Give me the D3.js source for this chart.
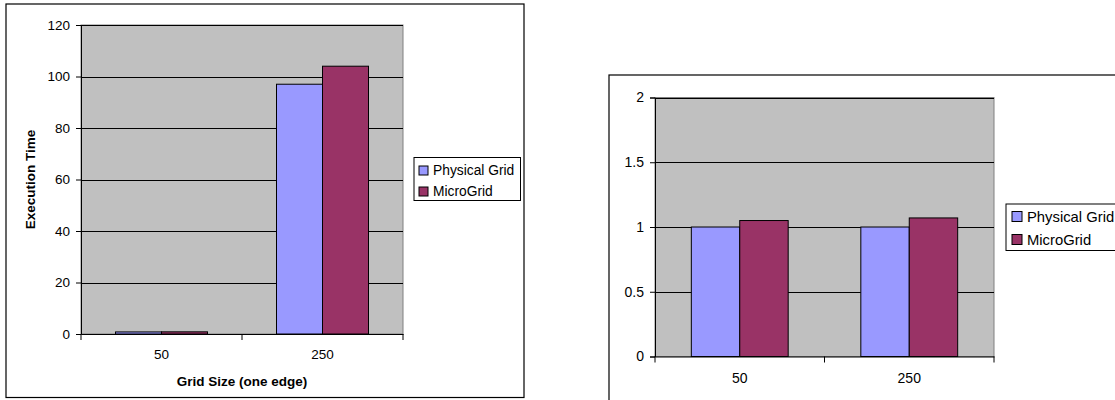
<!DOCTYPE html>
<html>
<head>
<meta charset="utf-8">
<script src="https://cdn.jsdelivr.net/npm/d3@7"></script>
<style>
  html, body { margin: 0; padding: 0; background: #ffffff; }
  svg { display: block; font-family: Arial, "Liberation Sans", sans-serif; }
</style>
</head>
<body>
<svg id="chart" width="1115" height="400"></svg>
<script>
// ---- data ----
const categories = ["50", "250"];
const seriesNames = ["Physical Grid", "MicroGrid"];
const seriesColors = ["#9999FF", "#993366"];

// left chart: absolute execution time
const leftPhysical = [0.8, 97];
const leftMicro = [0.84, 104];
const leftTicks = [0, 20, 40, 60, 80, 100, 120];
const leftYTitle = "Execution Time";
const leftXTitle = "Grid Size (one edge)";

// right chart: normalized
const rightPhysical = [1.0, 1.0];
const rightMicro = [1.05, 1.07];
const rightTicks = [0, 0.5, 1, 1.5, 2];

const svg = d3.select("#chart");

function drawChart(cfg) {
  const g = svg.append("g");
  // outer frame
  g.append("rect")
    .attr("x", cfg.frame[0]).attr("y", cfg.frame[1])
    .attr("width", cfg.frame[2]).attr("height", cfg.frame[3])
    .attr("fill", "#ffffff").attr("stroke", "#000").attr("stroke-width", 1.2);

  const [px0, px1, py0, py1] = cfg.plot; // left, right, top, bottom
  const x = d3.scaleBand().domain(cfg.categories).range([px0, px1]).paddingInner(0).paddingOuter(0);
  const xs = d3.scaleBand().domain(cfg.series).range([0, x.bandwidth()]).paddingInner(0).paddingOuter(0.75);
  const y = d3.scaleLinear().domain([cfg.ticks[0], cfg.ticks[cfg.ticks.length - 1]]).range([py1, py0]);

  // plot background
  g.append("rect")
    .attr("x", px0).attr("y", py0).attr("width", px1 - px0).attr("height", py1 - py0)
    .attr("fill", "#C0C0C0").attr("stroke", "#808080").attr("stroke-width", 1);

  // gridlines
  g.append("g").selectAll("line").data(cfg.ticks.filter(t => t !== 0))
    .join("line")
    .attr("x1", px0).attr("x2", px1)
    .attr("y1", d => Math.round(y(d)) + 0.5).attr("y2", d => Math.round(y(d)) + 0.5)
    .attr("stroke", "#000").attr("stroke-width", 1);

  // bars
  const rows = cfg.categories.map((c, i) => ({ cat: c, vals: cfg.values.map(v => v[i]) }));
  const grp = g.append("g").selectAll("g").data(rows).join("g")
    .attr("transform", d => `translate(${x(d.cat)},0)`);
  grp.selectAll("rect").data(d => d.vals.map((v, j) => ({ v, s: cfg.series[j], j })))
    .join("rect")
    .attr("x", d => xs(d.s))
    .attr("width", xs.bandwidth())
    .attr("y", d => y(d.v))
    .attr("height", d => y(0) - y(d.v))
    .attr("fill", d => cfg.colors[d.j])
    .attr("stroke", "#000").attr("stroke-width", 1);

  // y axis
  const ya = g.append("g").attr("transform", `translate(${px0},0)`)
    .call(d3.axisLeft(y).tickValues(cfg.ticks).tickSize(5).tickPadding(6).tickFormat(d3.format("")));
  ya.select(".domain").attr("stroke", "#000");
  ya.selectAll(".tick line").attr("stroke", "#000");
  ya.selectAll("text").attr("font-size", cfg.tickFont + "px").attr("fill", "#000")
    .attr("font-family", "Arial, 'Liberation Sans', sans-serif");

  // x axis: line, boundary ticks, centered labels
  const xa = g.append("g").attr("transform", `translate(0,${py1})`);
  xa.call(d3.axisBottom(x).tickSize(0).tickPadding(cfg.xPad));
  xa.select(".domain").attr("stroke", "#000");
  xa.selectAll("text").attr("font-size", cfg.tickFont + "px").attr("fill", "#000")
    .attr("font-family", "Arial, 'Liberation Sans', sans-serif");
  const bounds = cfg.categories.map(c => x(c)).concat([x(cfg.categories[cfg.categories.length - 1]) + x.bandwidth()]);
  xa.selectAll("line.bnd").data(bounds).join("line").attr("class", "bnd")
    .attr("x1", d => d).attr("x2", d => d).attr("y1", 0).attr("y2", 6)
    .attr("stroke", "#000");

  // titles
  if (cfg.yTitle) {
    g.append("text")
      .attr("transform", `translate(${cfg.yTitlePos[0]},${(py0 + py1) / 2}) rotate(-90)`)
      .attr("text-anchor", "middle").attr("dy", "0.35em")
      .attr("font-weight", "bold").attr("font-size", cfg.titleFont + "px")
      .text(cfg.yTitle);
  }
  if (cfg.xTitle) {
    g.append("text")
      .attr("x", (px0 + px1) / 2).attr("y", cfg.xTitleY)
      .attr("text-anchor", "middle").attr("dy", "0.35em")
      .attr("font-weight", "bold").attr("font-size", cfg.titleFont + "px")
      .text(cfg.xTitle);
  }

  // legend
  const L = cfg.legend;
  g.append("rect").attr("x", L.x).attr("y", L.y).attr("width", L.w).attr("height", L.h)
    .attr("fill", "#fff").attr("stroke", "#000").attr("stroke-width", 1);
  const li = g.append("g").selectAll("g").data(cfg.series).join("g")
    .attr("transform", (d, i) => `translate(${L.x + L.sx},${L.y + L.first + i * L.step})`);
  li.append("rect").attr("x", 0).attr("y", -L.sw / 2).attr("width", L.sw).attr("height", L.sw)
    .attr("fill", (d, i) => cfg.colors[i]).attr("stroke", "#000").attr("stroke-width", 1);
  li.append("text").attr("x", L.tx).attr("dy", "0.35em")
    .attr("font-size", L.font + "px").text(d => d);
}

drawChart({
  frame: [6, 4, 518, 393.5],
  plot: [81, 403, 25, 334],
  categories: categories,
  series: seriesNames,
  colors: seriesColors,
  values: [leftPhysical, leftMicro],
  ticks: leftTicks,
  tickFont: 13.5,
  titleFont: 13.5,
  xPad: 15.5,
  yTitle: leftYTitle,
  yTitlePos: [30],
  xTitle: leftXTitle,
  xTitleY: 381.5,
  legend: { x: 414, y: 157.5, w: 106.5, h: 43, sx: 5, sw: 9, first: 13, step: 21, tx: 14, font: 13.8 }
});

drawChart({
  frame: [609, 75, 530, 340],
  plot: [655, 994, 97.5, 356.5],
  categories: categories,
  series: seriesNames,
  colors: seriesColors,
  values: [rightPhysical, rightMicro],
  ticks: rightTicks,
  tickFont: 14,
  titleFont: 14,
  xPad: 17,
  legend: { x: 1006, y: 204, w: 130, h: 46.5, sx: 6, sw: 10, first: 12.5, step: 23, tx: 15, font: 14.8 }
});
</script>
</body>
</html>
